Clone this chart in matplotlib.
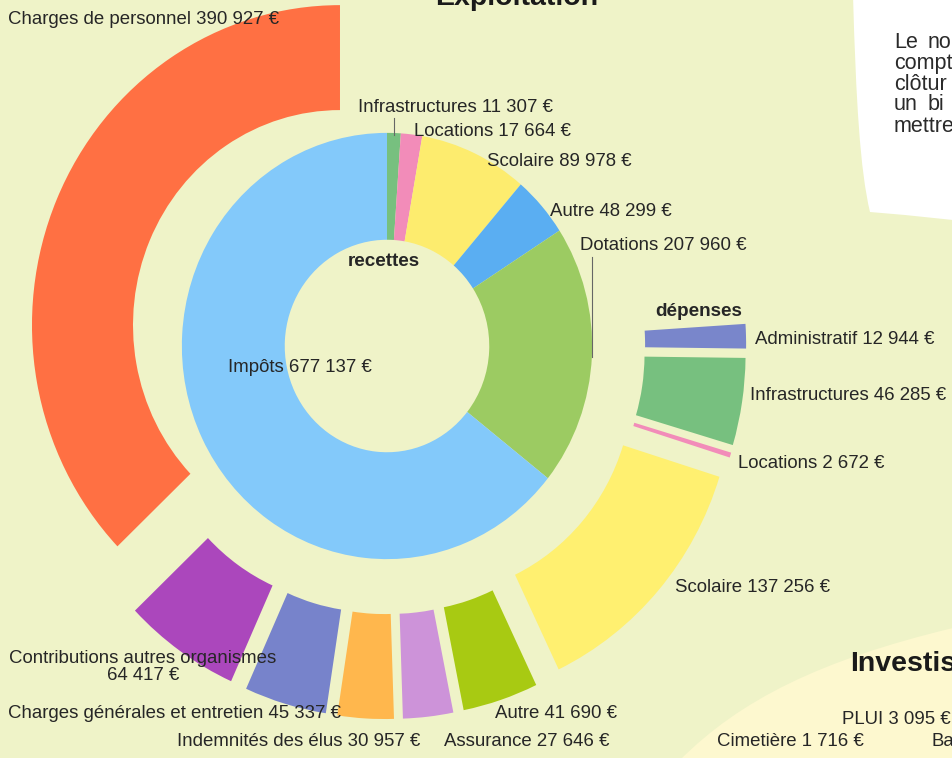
import matplotlib
matplotlib.use("Agg")
import matplotlib.pyplot as plt
from matplotlib.patches import Polygon, PathPatch
from matplotlib.path import Path

# ---------------- data ----------------
recettes_labels = ["Infrastructures", "Locations", "Scolaire", "Autre", "Dotations", "Impôts"]
recettes_values = [11307, 17664, 89978, 48299, 207960, 677137]

depenses_labels = ["Administratif", "Infrastructures", "Locations", "Scolaire", "Autre",
                   "Assurance", "Indemnités des élus", "Charges générales et entretien",
                   "Contributions autres organismes", "Charges de personnel"]
depenses_values = [12944, 46285, 2672, 137256, 41690, 27646, 30957, 45337, 64417, 390927]

# ---------------- styles ----------------
recettes_colors = ["#77c07f", "#f28cb9", "#fdec6e", "#5aaef2", "#9ccb62", "#83c9fa"]
depenses_colors = ["#7986cb", "#77c07f", "#f28cb9", "#fff070", "#a8ca12",
                   "#cd93d9", "#ffb74d", "#7783cb", "#ab47bc", "#ff7043"]
BG = "#eff3c8"
LIGHT = "#fdf8cf"
TXT = "#262626"
FONT = "Liberation Sans"
FS = 13.4


def fmt(v):
    return f"{v:,}".replace(",", " ") + " €"


W, H = 953, 758
fig = plt.figure(figsize=(W / 100, H / 100), dpi=100)
fig.patch.set_facecolor(BG)

# background shapes (pixel coordinates)
ax_bg = fig.add_axes([0, 0, 1, 1])
ax_bg.set_xlim(0, W)
ax_bg.set_ylim(H, 0)
ax_bg.axis("off")
box_verts = [(853, -5), (856, 100), (860, 170), (870, 212), (905, 215),
             (953, 220), (953, -5), (853, -5)]
box_codes = [Path.MOVETO, Path.CURVE4, Path.CURVE4, Path.CURVE4,
             Path.LINETO, Path.LINETO, Path.LINETO, Path.CLOSEPOLY]
ax_bg.add_patch(PathPatch(Path(box_verts, box_codes), facecolor="white", edgecolor="none"))
light_verts = [(680, 760), (740, 700), (820, 660), (953, 628), (953, 760), (680, 760)]
light_codes = [Path.MOVETO, Path.CURVE4, Path.CURVE4, Path.CURVE4, Path.LINETO, Path.CLOSEPOLY]
ax_bg.add_patch(PathPatch(Path(light_verts, light_codes), facecolor=LIGHT, edgecolor="none"))

# ---------------- pies ----------------
ax = fig.add_axes([0, 0, 1, 1])
ax.patch.set_visible(False)
gap = sum(recettes_values) - sum(depenses_values)
outer_vals = [gap] + depenses_values
outer_cols = ["none"] + depenses_colors
outer_explode = [0] + [0.166] * len(depenses_values)
w_out, _ = ax.pie(outer_vals, radius=1.0, colors=outer_cols, explode=outer_explode,
                  startangle=90, counterclock=False,
                  wedgeprops=dict(width=0.328, linewidth=0, edgecolor="none"))
w_out[0].set_visible(False)
ax.pie(recettes_values, radius=0.666, colors=recettes_colors, startangle=90,
       counterclock=False, wedgeprops=dict(width=0.334, linewidth=0, edgecolor="none"))

cx, cy, sx, sy = 387, 346, 308, 320
ax.set_xlim(-cx / sx, (W - cx) / sx)
ax.set_ylim((cy - H) / sy, cy / sy)
ax.set_aspect("auto")
ax.axis("off")

# ---------------- texts ----------------
ax_t = fig.add_axes([0, 0, 1, 1])
ax_t.patch.set_visible(False)
ax_t.set_xlim(0, W)
ax_t.set_ylim(H, 0)
ax_t.axis("off")


def T(x, y, s, ha="left", size=FS, weight="normal", **kw):
    ax_t.text(x, y, s, ha=ha, va="center", fontsize=size, fontweight=weight,
              family=FONT, color=TXT, **kw)


# recettes labels: (x, y, ha)
rec_pos = [(358, 108, "left"), (414, 131, "left"), (487, 162, "left"),
           (550, 211, "left"), (580, 246, "left"), (228, 368, "left")]
for (x, y, ha), lab, v in zip(rec_pos, recettes_labels, recettes_values):
    T(x, y, f"{lab} {fmt(v)}", ha=ha)

# dépenses labels
dep_pos = [(755, 340, "left"), (750, 396, "left"), (738, 463, "left"),
           (675, 588, "left"), (617, 713, "right"), (610, 741, "right"),
           (420, 741, "right"), (8, 713, "left"), (143, 667, "center"),
           (8, 20, "left")]
for (x, y, ha), lab, v in zip(dep_pos, depenses_labels, depenses_values):
    if lab.startswith("Contributions"):
        ax_t.text(x, y, f"{lab}\n{fmt(v)}", ha="center", va="center", fontsize=FS,
                  family=FONT, color=TXT, multialignment="center", linespacing=1.05)
    else:
        T(x, y, f"{lab} {fmt(v)}", ha=ha)

T(384, 261, "recettes", ha="center", weight="bold", size=13.6)
T(699, 312, "dépenses", ha="center", weight="bold", size=13.6)

# leader lines
ax_t.plot([394, 394], [118, 135], color="#666666", lw=0.8)
ax_t.plot([592, 592], [257, 357], color="#666666", lw=0.8)

# page furniture (cut by the page edges as in the reference)
ax_t.text(517, 5, "Exploitation", ha="center", va="baseline", fontsize=20.5,
          fontweight="bold", family=FONT, color="#1a1a1a")
ax_t.text(850, 664, "Investis", ha="left", va="center", fontsize=20.5,
          fontweight="bold", family=FONT, color="#1a1a1a")
T(842, 719, "PLUI 3 095 €")
T(717, 741, "Cimetière 1 716 €")
T(932, 741, "Ba")

side = [(43, "Le", "no"), (64, "compt", None), (85, "clôtur", None),
        (105, "un", "bi"), (126, "mettre", None)]
for y, a, b in side:
    ax_t.text(894, y, a, ha="left", va="center", fontsize=15.5, family=FONT, color="#2a2a2a")
    if b:
        ax_t.text(928, y, b, ha="left", va="center", fontsize=15.5, family=FONT, color="#2a2a2a")

fig.savefig("out.png", dpi=100, facecolor=BG)
